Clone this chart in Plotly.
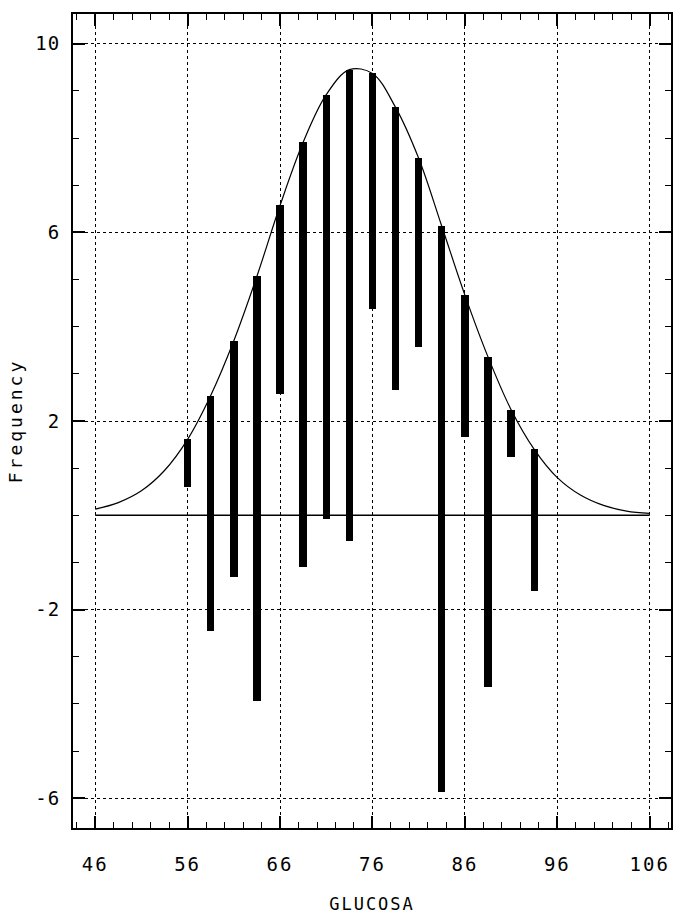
import plotly.graph_objects as go

# Class midpoints of the glucose histogram (bin width 2.5)
glucosa = [56, 58.5, 61, 63.5, 66, 68.5, 71, 73.5, 76, 78.5, 81, 83.5, 86, 88.5, 91, 93.5]
# Observed counts per class
observed = [1, 5, 5, 9, 4, 9, 9, 10, 5, 6, 4, 12, 3, 7, 1, 3]
# Fitted normal frequencies per class (bars hang from these)
fitted = [1.61, 2.54, 3.70, 5.07, 6.57, 7.91, 8.92, 9.45, 9.37, 8.65, 7.57, 6.13, 4.67, 3.36, 2.24, 1.40]

# Fitted curve tails outside the histogram classes
left_tail_x = [46, 48.5, 51, 53.5]
left_tail_y = [0.13, 0.27, 0.52, 0.95]
right_tail_x = [96, 98.5, 101, 103.5, 106]
right_tail_y = [0.80, 0.43, 0.21, 0.09, 0.04]

x_ticks = [46, 56, 66, 76, 86, 96, 106]
y_ticks = [-6, -2, 2, 6, 10]

MONO = "DejaVu Sans Mono"


def spaced(s, px):
    return f'<span style="letter-spacing:{px}px">{s}</span>'


curve_x = left_tail_x + glucosa + right_tail_x
curve_y = left_tail_y + fitted + right_tail_y
bar_base = [f - o for f, o in zip(fitted, observed)]

fig = go.Figure()

# Reference line at zero frequency
fig.add_trace(go.Scatter(
    x=[left_tail_x[0], right_tail_x[-1]], y=[0, 0], mode="lines",
    line=dict(color="black", width=1.6), hoverinfo="skip", showlegend=False,
))

# Fitted normal curve
fig.add_trace(go.Scatter(
    x=curve_x, y=curve_y, mode="lines",
    line=dict(color="black", width=1.2, shape="spline", smoothing=1.0),
    showlegend=False,
))

# Hanging bars: top sits on the fitted curve, length equals the observed count
fig.add_trace(go.Bar(
    x=glucosa, y=observed, base=bar_base, width=0.8,
    marker=dict(color="black", line=dict(width=0)),
    showlegend=False,
))

axis_common = dict(
    showline=True, linecolor="black", linewidth=2, mirror="allticks",
    ticks="inside", ticklen=12, tickwidth=1.5, tickcolor="black",
    showgrid=True, gridcolor="black", gridwidth=1, griddash="dot",
    zeroline=False,
    tickfont=dict(family=MONO, size=19, color="black"),
)

fig.update_xaxes(
    range=[43.6, 108.3],
    tickmode="array", tickvals=x_ticks,
    ticktext=[spaced(str(v), 2) for v in x_ticks],
    ticklabelstandoff=18,
    minor=dict(dtick=2, tick0=46, ticks="inside", ticklen=6, tickwidth=1.2,
               tickcolor="black", showgrid=False),
    title=dict(text=spaced("GLUCOSA", 2), standoff=24,
               font=dict(family=MONO, size=17, color="black")),
    **axis_common,
)

fig.update_yaxes(
    range=[-6.63, 10.63],
    tickmode="array", tickvals=y_ticks,
    ticktext=[spaced(str(v), 1) for v in y_ticks],
    ticklabelstandoff=7,
    minor=dict(dtick=1, tick0=0, ticks="inside", ticklen=6, tickwidth=1.2,
               tickcolor="black", showgrid=False),
    title=dict(text=spaced("Frequency", 3), standoff=8,
               font=dict(family=MONO, size=18, color="black")),
    **axis_common,
)

fig.update_layout(
    width=682, height=920,
    margin=dict(l=73, r=9, t=14, b=90),
    paper_bgcolor="white", plot_bgcolor="white",
    bargap=0, showlegend=False,
)

fig.write_html("out.html")
